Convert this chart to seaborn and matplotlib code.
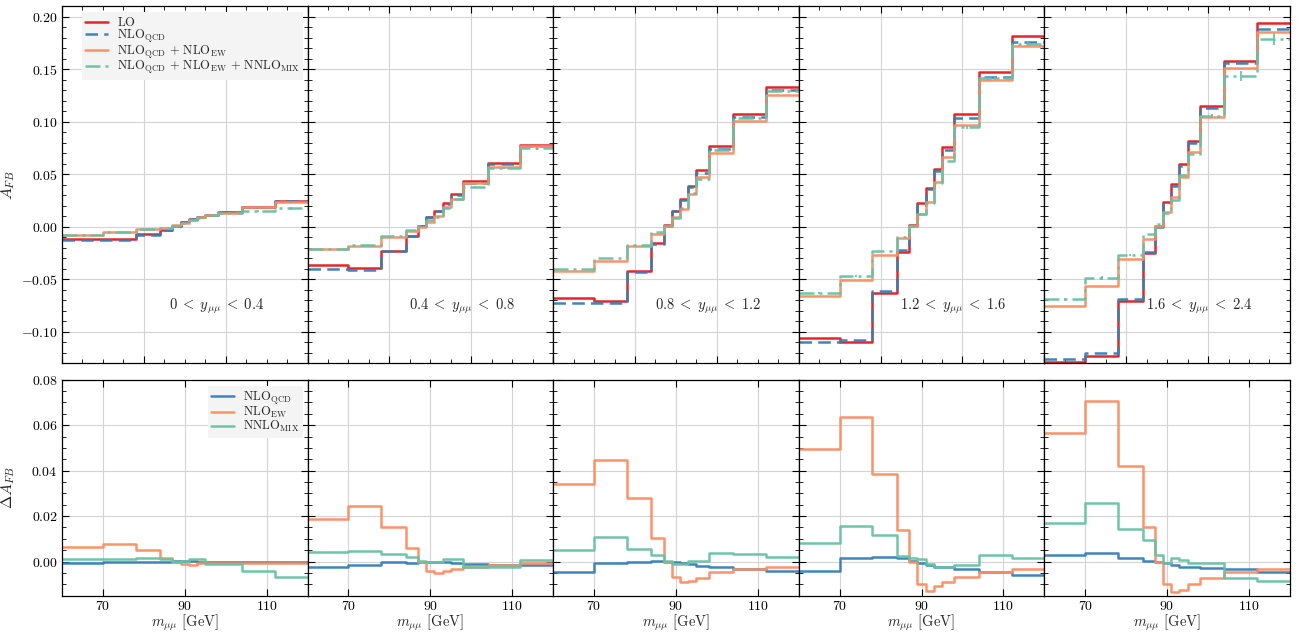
import matplotlib
matplotlib.use("Agg")
import matplotlib.pyplot as plt
import seaborn as sns
from matplotlib.ticker import MultipleLocator, AutoMinorLocator, FixedLocator, NullLocator

# ---------------- data ----------------
EDGES = [60, 70, 78, 84, 87, 89, 91, 93, 95, 98, 104, 112, 120]
RAPIDITY_LABELS = [r"$0 \;<\; y_{\mu\mu} \;<\; 0.4$", r"$0.4 \;<\; y_{\mu\mu} \;<\; 0.8$",
                   r"$0.8 \;<\; y_{\mu\mu} \;<\; 1.2$", r"$1.2 \;<\; y_{\mu\mu} \;<\; 1.6$",
                   r"$1.6 \;<\; y_{\mu\mu} \;<\; 2.4$"]

# A_FB, top row
LO1 = [-0.0121, -0.0121, -0.0073, -0.0032, 0.0006, 0.0048, 0.0070, 0.0095, 0.0115, 0.0140, 0.0190, 0.0244]
QCD1 = [-0.0130, -0.0128, -0.0078, -0.0034, 0.0006, 0.0050, 0.0072, 0.0097, 0.0115, 0.0138, 0.0189, 0.0242]
EW1 = [-0.0079, -0.0054, -0.0025, -0.0013, 0.0013, 0.0038, 0.0063, 0.0089, 0.0115, 0.0127, 0.0184, 0.0238]
MIX1 = [-0.0076, -0.0054, -0.0019, -0.0010, 0.0010, 0.0040, 0.0063, 0.0085, 0.0110, 0.0127, 0.0152, 0.0178]
ERR1 = [0.0, 0.0, 0.0, 0.0, 0.0, 0.0, 0.0, 0.0, 0.0, 0.0, 0.0012, 0.0015]

LO2 = [-0.0368, -0.0390, -0.0229, -0.0086, 0.0006, 0.0089, 0.0152, 0.0222, 0.0308, 0.0432, 0.0610, 0.0775]
QCD2 = [-0.0400, -0.0410, -0.0229, -0.0086, 0.0006, 0.0095, 0.0146, 0.0216, 0.0300, 0.0420, 0.0597, 0.0768]
EW2 = [-0.0216, -0.0184, -0.0098, -0.0041, 0.0000, 0.0048, 0.0102, 0.0190, 0.0267, 0.0413, 0.0570, 0.0768]
MIX2 = [-0.0210, -0.0178, -0.0092, -0.0032, 0.0006, 0.0063, 0.0095, 0.0175, 0.0267, 0.0380, 0.0556, 0.0746]
ERR2 = [0.0, 0.0, 0.0, 0.0, 0.0, 0.0, 0.0, 0.0, 0.0, 0.0010, 0.0010, 0.0012]

LO3 = [-0.0676, -0.0708, -0.0422, -0.0159, 0.0013, 0.0152, 0.0260, 0.0390, 0.0540, 0.0768, 0.1076, 0.1333]
QCD3 = [-0.0724, -0.0724, -0.0429, -0.0165, 0.0006, 0.0152, 0.0254, 0.0375, 0.0514, 0.0737, 0.1044, 0.1300]
EW3 = [-0.0419, -0.0324, -0.0184, -0.0070, 0.0006, 0.0095, 0.0168, 0.0311, 0.0470, 0.0700, 0.1010, 0.1260]
MIX3 = [-0.0400, -0.0295, -0.0175, -0.0054, 0.0016, 0.0079, 0.0175, 0.0317, 0.0454, 0.0730, 0.1040, 0.1295]
ERR3 = [0.0, 0.0, 0.0, 0.0, 0.0, 0.0, 0.0, 0.0, 0.0, 0.0010, 0.0012, 0.0015]

LO4 = [-0.1057, -0.1095, -0.0635, -0.0244, 0.0013, 0.0222, 0.0371, 0.0552, 0.0762, 0.1070, 0.1476, 0.1822]
QCD4 = [-0.1095, -0.1080, -0.0613, -0.0222, 0.0006, 0.0210, 0.0359, 0.0533, 0.0730, 0.1032, 0.1425, 0.1759]
EW4 = [-0.0657, -0.0508, -0.0270, -0.0108, 0.0006, 0.0124, 0.0232, 0.0422, 0.0667, 0.0968, 0.1397, 0.1720]
MIX4 = [-0.0635, -0.0470, -0.0232, -0.0095, 0.0006, 0.0120, 0.0222, 0.0413, 0.0625, 0.0946, 0.1416, 0.1746]
ERR4 = [0.0010, 0.0010, 0.0, 0.0, 0.0, 0.0, 0.0, 0.0, 0.0, 0.0012, 0.0015, 0.0025]

LO5 = [-0.1292, -0.1232, -0.0708, -0.0254, 0.0010, 0.0238, 0.0403, 0.0597, 0.0816, 0.1149, 0.1578, 0.1937]
QCD5 = [-0.1263, -0.1200, -0.0692, -0.0244, 0.0000, 0.0222, 0.0387, 0.0581, 0.0794, 0.1127, 0.1556, 0.1886]
EW5 = [-0.0756, -0.0565, -0.0311, -0.0121, 0.0006, 0.0140, 0.0280, 0.0476, 0.0714, 0.1048, 0.1508, 0.1860]
MIX5 = [-0.0692, -0.0486, -0.0270, -0.0070, 0.0025, 0.0127, 0.0254, 0.0490, 0.0698, 0.1057, 0.1435, 0.1787]
ERR5 = [0.0012, 0.0020, 0.0010, 0.0, 0.0, 0.0, 0.0, 0.0, 0.0, 0.0015, 0.0048, 0.0055]

# Delta A_FB, bottom row
DQCD1 = [-0.0008, -0.0004, -0.0003, 0.0000, 0.0002, 0.0003, 0.0002, 0.0000, -0.0002, -0.0001, 0.0000, -0.0002]
DEW1 = [0.0064, 0.0078, 0.0049, 0.0016, 0.0000, -0.0010, -0.0016, -0.0007, -0.0007, -0.0007, -0.0007, -0.0007]
DMIX1 = [0.0009, 0.0009, 0.0016, 0.0009, 0.0000, 0.0004, 0.0009, 0.0009, -0.0010, -0.0010, -0.0040, -0.0067]

DQCD2 = [-0.0025, -0.0015, -0.0003, -0.0006, 0.0000, 0.0000, -0.0003, -0.0003, -0.0006, -0.0010, -0.0015, -0.0015]
DEW2 = [0.0189, 0.0245, 0.0152, 0.0059, 0.0000, -0.0040, -0.0049, -0.0040, -0.0033, -0.0025, -0.0015, -0.0007]
DMIX2 = [0.0040, 0.0046, 0.0033, 0.0019, 0.0004, -0.0004, -0.0004, 0.0009, 0.0009, -0.0025, -0.0025, 0.0007]

DQCD3 = [-0.0044, -0.0007, 0.0000, 0.0004, 0.0000, -0.0004, -0.0007, -0.0013, -0.0018, -0.0022, -0.0034, -0.0040]
DEW3 = [0.0343, 0.0445, 0.0278, 0.0104, 0.0000, -0.0070, -0.0089, -0.0084, -0.0072, -0.0047, -0.0033, -0.0022]
DMIX3 = [0.0049, 0.0108, 0.0053, 0.0030, 0.0004, -0.0013, -0.0013, 0.0001, 0.0004, 0.0037, 0.0034, 0.0022]

DQCD4 = [-0.0041, 0.0015, 0.0019, 0.0015, 0.0004, -0.0007, -0.0015, -0.0022, -0.0025, -0.0035, -0.0047, -0.0058]
DEW4 = [0.0495, 0.0636, 0.0385, 0.0138, -0.0004, -0.0099, -0.0129, -0.0108, -0.0089, -0.0070, -0.0047, -0.0033]
DMIX4 = [0.0081, 0.0155, 0.0118, 0.0025, 0.0016, 0.0009, -0.0010, -0.0025, -0.0022, -0.0016, 0.0030, 0.0016]

DQCD5 = [0.0030, 0.0037, 0.0016, 0.0001, -0.0003, -0.0007, -0.0015, -0.0022, -0.0025, -0.0028, -0.0035, -0.0047]
DEW5 = [0.0566, 0.0707, 0.0421, 0.0152, -0.0003, -0.0099, -0.0136, -0.0124, -0.0099, -0.0074, -0.0044, -0.0034]
DMIX5 = [0.0170, 0.0259, 0.0145, 0.0096, 0.0030, -0.0007, 0.0016, 0.0007, -0.0007, -0.0007, -0.0072, -0.0084]

TOP_LABELS = [r"$\mathrm{LO}$", r"$\mathrm{NLO}_{\mathrm{QCD}}$",
              r"$\mathrm{NLO}_{\mathrm{QCD}}\,+\,\mathrm{NLO}_{\mathrm{EW}}$",
              r"$\mathrm{NLO}_{\mathrm{QCD}}\,+\,\mathrm{NLO}_{\mathrm{EW}}\,+\,\mathrm{NNLO}_{\mathrm{MIX}}$"]
BOT_LABELS = [r"$\mathrm{NLO}_{\mathrm{QCD}}$", r"$\mathrm{NLO}_{\mathrm{EW}}$", r"$\mathrm{NNLO}_{\mathrm{MIX}}$"]

TOP_SETS = [[LO1, QCD1, EW1, MIX1], [LO2, QCD2, EW2, MIX2], [LO3, QCD3, EW3, MIX3],
            [LO4, QCD4, EW4, MIX4], [LO5, QCD5, EW5, MIX5]]
TOP_ERRS = [ERR1, ERR2, ERR3, ERR4, ERR5]
BOT_SETS = [[DQCD1, DEW1, DMIX1], [DQCD2, DEW2, DMIX2], [DQCD3, DEW3, DMIX3],
            [DQCD4, DEW4, DMIX4], [DQCD5, DEW5, DMIX5]]

# ---------------- style ----------------
RED, BLUE, ORANGE, GREEN = "#e41a1c", "#377eb8", "#fc8d62", "#66c2a5"
TOP_STYLES = [dict(color=RED, linestyle="-"), dict(color=BLUE, linestyle=(0, (5, 2.5))),
              dict(color=ORANGE, linestyle="-"), dict(color=GREEN, linestyle=(0, (6, 2, 1.2, 2)))]
BOT_STYLES = [dict(color=BLUE, linestyle="-"), dict(color=ORANGE, linestyle="-"),
              dict(color=GREEN, linestyle="-")]

sns.set_theme(style="ticks")
plt.rcParams.update({
    "font.family": "serif",
    "font.serif": ["cmr10"],
    "mathtext.fontset": "cm",
    "axes.formatter.use_mathtext": True,
    "axes.unicode_minus": True,
    "font.size": 10,
    "axes.linewidth": 0.9,
    "axes.edgecolor": "black",
})

fig = plt.figure(figsize=(12.99, 6.35), dpi=100)
L, R = 0.0477, 0.993
gs_top = fig.add_gridspec(1, 5, left=L, right=R, top=0.990, bottom=0.428, wspace=0)
gs_bot = fig.add_gridspec(1, 5, left=L, right=R, top=0.402, bottom=0.062, wspace=0)

CENTERS = [(a + b) / 2 for a, b in zip(EDGES[:-1], EDGES[1:])]


def step(ax, vals, lw=1.8, **kw):
    y = list(vals) + [vals[-1]]
    sns.lineplot(x=EDGES, y=y, ax=ax, drawstyle="steps-post", estimator=None,
                 sort=False, linewidth=lw, alpha=0.95, **kw)


def style_axis(ax):
    ax.tick_params(which="both", direction="in", top=True, right=True, colors="black")
    ax.tick_params(which="major", length=5, width=0.8, labelsize=10, pad=3)
    ax.tick_params(which="minor", length=2.8, width=0.6)
    ax.grid(True, which="major", color="#d4d4d4", linewidth=0.8)
    ax.set_axisbelow(True)


top_axes, bot_axes = [], []
for i in range(5):
    ax = fig.add_subplot(gs_top[0, i])
    for vals, st, lab in zip(TOP_SETS[i], TOP_STYLES, TOP_LABELS):
        step(ax, vals, label=lab, **st)
    ax.errorbar(CENTERS, TOP_SETS[i][3], yerr=TOP_ERRS[i], fmt="none",
                ecolor=GREEN, elinewidth=1.3, capsize=0, alpha=0.95)
    ax.set_xlim(60, 120)
    ax.set_ylim(-0.13, 0.21)
    ax.xaxis.set_major_locator(MultipleLocator(20))
    ax.xaxis.set_minor_locator(AutoMinorLocator(4))
    ax.yaxis.set_major_locator(MultipleLocator(0.05))
    ax.yaxis.set_minor_locator(AutoMinorLocator(5))
    style_axis(ax)
    ax.set_xticklabels([])
    ax.set_xlabel("")
    if i > 0:
        ax.set_yticklabels([])
        ax.set_ylabel("")
    else:
        ax.set_ylabel(r"$A_{FB}$", fontsize=11.5)
        ax.yaxis.set_label_coords(-0.185, 0.5)
    ax.text(0.63, 0.16, RAPIDITY_LABELS[i], transform=ax.transAxes,
            ha="center", va="center", fontsize=10.5)
    if ax.get_legend() is not None:
        ax.get_legend().remove()
    top_axes.append(ax)

    bx = fig.add_subplot(gs_bot[0, i])
    for vals, st, lab in zip(BOT_SETS[i], BOT_STYLES, BOT_LABELS):
        step(bx, vals, label=lab, **st)
    bx.set_xlim(60, 120)
    bx.set_ylim(-0.015, 0.08)
    bx.xaxis.set_major_locator(FixedLocator([70, 90, 110]))
    bx.xaxis.set_minor_locator(NullLocator())
    bx.yaxis.set_major_locator(MultipleLocator(0.02))
    bx.yaxis.set_minor_locator(AutoMinorLocator(4))
    style_axis(bx)
    bx.set_xlabel(r"$m_{\mu\mu}$ [GeV]", fontsize=10.5, labelpad=0)
    if i > 0:
        bx.set_yticklabels([])
        bx.set_ylabel("")
    else:
        bx.set_ylabel(r"$\Delta A_{FB}$", fontsize=11.5)
        bx.yaxis.set_label_coords(-0.185, 0.5)
    if bx.get_legend() is not None:
        bx.get_legend().remove()
    bot_axes.append(bx)

LEG_KW = dict(fontsize=9, frameon=True, facecolor="#f4f4f4", edgecolor="none",
              framealpha=1.0, fancybox=False, handlelength=1.85, handletextpad=0.65,
              borderpad=0.3, labelspacing=-0.1, borderaxespad=0.0)
h, l = top_axes[0].get_legend_handles_labels()
top_axes[0].legend(h[:4], l[:4], loc="upper left", bbox_to_anchor=(0.08, 0.983), **LEG_KW)
h, l = bot_axes[0].get_legend_handles_labels()
bot_axes[0].legend(h[:3], l[:3], loc="upper right", bbox_to_anchor=(0.98, 0.972), **LEG_KW)

fig.savefig("out.png", dpi=100)
